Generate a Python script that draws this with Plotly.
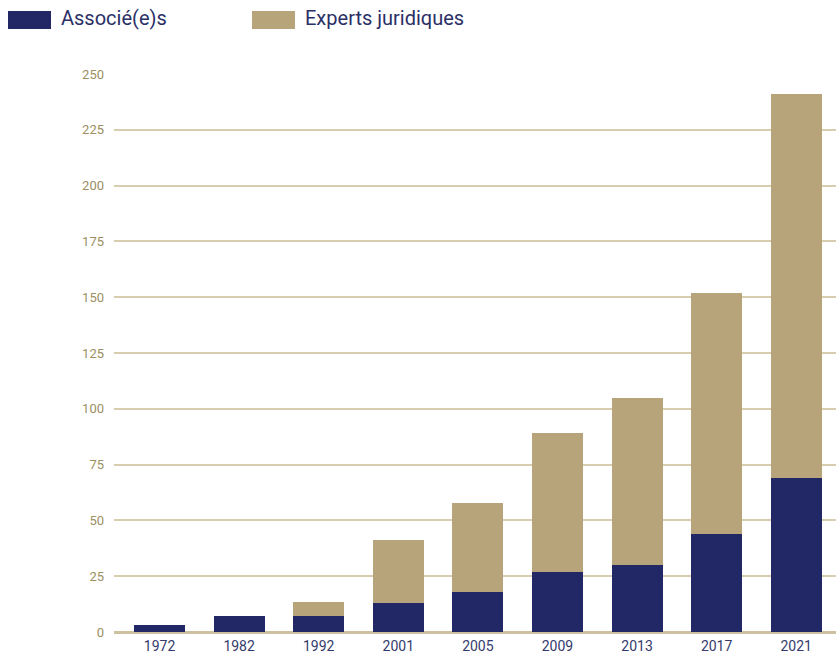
import plotly.graph_objects as go

years = ["1972", "1982", "1992", "2001", "2005", "2009", "2013", "2017", "2021"]
associes = [3, 7, 7, 13, 18, 27, 30, 44, 69]
experts = [0, 0, 6.5, 28, 40, 62, 75, 108, 172]
y_ticks = [0, 25, 50, 75, 100, 125, 150, 175, 200, 225, 250]

NAVY = "#222766"
TAN = "#b8a47a"
GRID = "#d9cdb0"

L, T, B = 114, 74, 23
W, H = 836, 655
PW, PH = W - L, H - T - B

fig = go.Figure()
fig.add_bar(x=years, y=associes, name="Associé(e)s", marker_color=NAVY,
            marker_line_width=0, width=0.64)
fig.add_bar(x=years, y=experts, name="Experts juridiques", marker_color=TAN,
            marker_line_width=0, width=0.64)

fig.update_layout(
    barmode="stack",
    width=W, height=H,
    margin=dict(l=L, r=0, t=T, b=B),
    plot_bgcolor="white", paper_bgcolor="white",
    showlegend=False,
    font=dict(family="Roboto", size=13),
    xaxis=dict(type="category", range=[-0.572, 8.5], showgrid=False,
               showline=False, ticks="", automargin=False,
               ticklabelstandoff=4,
               tickfont=dict(color="#343a6c", size=14)),
    yaxis=dict(range=[0, 250], tickvals=y_ticks, showgrid=True,
               gridcolor=GRID, gridwidth=1.5, zeroline=True,
               zerolinecolor="#cdc19f", zerolinewidth=2.5,
               showline=False, ticks="", automargin=False,
               ticklabelstandoff=9,
               tickfont=dict(color="#9b8f62", size=13)),
)

# legend drawn as shapes + text (page pixel positions)
legend_items = [("Associé(e)s", NAVY, 8), ("Experts juridiques", TAN, 252)]
for label, color, x0 in legend_items:
    fig.add_shape(type="rect", xref="paper", yref="paper",
                  x0=(x0 - L) / PW, x1=(x0 + 43 - L) / PW,
                  y0=(632 - 29) / PH, y1=(632 - 11) / PH,
                  fillcolor=color, line_width=0, layer="above")
    fig.add_annotation(text=label, xref="paper", yref="paper",
                       x=(x0 + 52 - L) / PW, y=(632 - 18) / PH,
                       xanchor="left", yanchor="middle", showarrow=False,
                       borderpad=0,
                       font=dict(family="Roboto", size=20, color="#2a2f66"))

fig.write_html("out.html",
               config={"displayModeBar": False},
               post_script="document.body.style.margin='0';")
